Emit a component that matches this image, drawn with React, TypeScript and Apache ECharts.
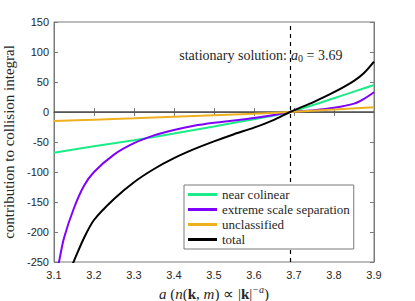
import React, { useEffect, useRef } from "react";
import * as echarts from "echarts";

const xTicks = [3.1, 3.9];
const yRange = [-250, 150];
const a0 = 3.69;

const nearX = [3.1, 3.2, 3.3, 3.4, 3.5, 3.6, 3.65, 3.69, 3.75, 3.8, 3.85, 3.9];
const nearY = [-68, -57, -47, -36, -24, -12, -6, 0, 12, 23, 34, 45];

const extremeX = [3.1, 3.1125, 3.125, 3.15, 3.175, 3.2, 3.25, 3.3, 3.35, 3.4, 3.45, 3.5, 3.55, 3.6, 3.65, 3.69, 3.75, 3.8, 3.85, 3.875, 3.9];
const extremeY = [-290, -250, -210, -160, -123, -100, -71, -52, -39, -30, -23, -18, -14, -10, -5, 0, 3, 7, 14, 22, 33];

const unclX = [3.1, 3.2, 3.3, 3.4, 3.5, 3.6, 3.69, 3.8, 3.9];
const unclY = [-15, -12.8, -10.5, -8, -5.5, -3, 0, 4, 8];

const totalX = [3.1, 3.125, 3.15, 3.175, 3.2, 3.25, 3.3, 3.35, 3.4, 3.45, 3.5, 3.55, 3.6, 3.65, 3.69, 3.75, 3.8, 3.85, 3.875, 3.9];
const totalY = [-330, -285, -248, -210, -180, -145, -117, -95, -77, -62, -49, -37, -26, -13, 0, 17, 33, 52, 65, 84];

const names = ["near colinear", "extreme scale separation", "unclassified", "total"];
const colors = ["#1ceb8a", "#7f00ff", "#edb120", "#000000"];

const zip = (xs: number[], ys: number[]) => xs.map((x, i) => [x, ys[i]]);

export default function App() {
  const ref = useRef<HTMLDivElement>(null);
  useEffect(() => {
    if (!ref.current) return;
    const chart = echarts.init(ref.current, undefined, { renderer: "svg" });
    const serif = "'Liberation Serif', 'Times New Roman', serif";
    const axisColor = "#7a7a7a";
    const labelStyle = { color: "#262626", fontSize: 11, fontFamily: "'Liberation Sans', Arial, sans-serif" };
    const datasets = [zip(nearX, nearY), zip(extremeX, extremeY), zip(unclX, unclY), zip(totalX, totalY)];
    chart.setOption({
      animation: false,
      grid: {
        left: 54,
        right: 41,
        top: 22,
        bottom: 39,
        show: true,
        borderColor: axisColor,
        borderWidth: 1,
        containLabel: false,
        outerBoundsMode: "none",
      },
      xAxis: [
        {
          type: "value",
          min: xTicks[0],
          max: xTicks[1],
          interval: 0.1,
          axisLine: { show: true, lineStyle: { color: axisColor } },
          axisTick: { show: true, inside: true, length: 4, lineStyle: { color: axisColor } },
          splitLine: { show: false },
          axisLabel: { ...labelStyle, margin: 7, formatter: (v: number) => v.toFixed(1) },
          name: "{i|a} ({i|n}({b|k}, {i|m}) ∝ |{b|k}|{sup|−a})",
          nameLocation: "middle",
          nameGap: 18,
          nameTextStyle: {
            fontFamily: serif,
            fontSize: 15,
            color: "#262626",
            rich: {
              i: { fontFamily: serif, fontStyle: "italic", fontSize: 15, color: "#262626" },
              b: { fontFamily: serif, fontWeight: "bold", fontSize: 15, color: "#262626" },
              sup: { fontFamily: serif, fontStyle: "italic", fontSize: 10, color: "#262626", padding: [0, 0, 9, 0] },
            },
          },
        },
        {
          type: "value",
          position: "top",
          min: xTicks[0],
          max: xTicks[1],
          interval: 0.1,
          axisLine: { show: true, lineStyle: { color: axisColor } },
          axisTick: { show: true, inside: true, length: 4, lineStyle: { color: axisColor } },
          axisLabel: { show: false },
          splitLine: { show: false },
        },
      ],
      yAxis: [
        {
          type: "value",
          min: yRange[0],
          max: yRange[1],
          interval: 50,
          axisLine: { show: true, lineStyle: { color: axisColor } },
          axisTick: { show: true, inside: true, length: 4, lineStyle: { color: axisColor } },
          splitLine: { show: false },
          axisLabel: { ...labelStyle, margin: 5 },
          name: "contribution to collision integral",
          nameLocation: "middle",
          nameGap: 31,
          nameTextStyle: { fontFamily: serif, fontSize: 15, color: "#262626" },
        },
        {
          type: "value",
          position: "right",
          min: yRange[0],
          max: yRange[1],
          interval: 50,
          axisLine: { show: true, lineStyle: { color: axisColor } },
          axisTick: { show: true, inside: true, length: 4, lineStyle: { color: axisColor } },
          axisLabel: { show: false },
          splitLine: { show: false },
        },
      ],
      legend: {
        orient: "vertical",
        left: 184,
        top: 185,
        z: 20,
        data: names,
        icon: "rect",
        itemWidth: 29,
        itemHeight: 3,
        itemGap: 2,
        padding: [3, 4, 3, 4],
        backgroundColor: "#ffffff",
        borderColor: "#7a7a7a",
        borderWidth: 1,
        borderRadius: 0,
        textStyle: { fontFamily: serif, fontSize: 13, color: "#262626" },
      },
      graphic: [
        {
          type: "text",
          x: 287,
          y: 55,
          z: 10,
          style: {
            text: "stationary solution:",
            fontFamily: serif,
            fontSize: 14,
            fill: "#262626",
            align: "right",
            verticalAlign: "middle",
          },
        },
        {
          type: "text",
          x: 291,
          y: 55,
          z: 10,
          style: {
            text: "{i|a}{sub|0} = 3.69",
            fontFamily: serif,
            fontSize: 14,
            fill: "#262626",
            align: "left",
            verticalAlign: "middle",
            rich: {
              i: { fontFamily: serif, fontStyle: "italic", fontSize: 14, fill: "#262626" },
              sub: { fontFamily: serif, fontSize: 10, fill: "#262626", padding: [6, 0, 0, 0] },
            },
          },
        },
      ],
      series: [
        {
          type: "line",
          name: "__zero",
          data: [],
          silent: true,
          z: 1,
          markLine: {
            silent: true,
            symbol: "none",
            label: { show: false },
            lineStyle: { color: "#4d4d4d", width: 1.5, type: "solid" },
            data: [{ yAxis: 0 }],
          },
        },
        ...names.map((n, i) => ({
          type: "line",
          name: n,
          data: datasets[i],
          showSymbol: false,
          symbol: "none",
          clip: true,
          smooth: 0.3,
          z: 3 + i,
          lineStyle: { color: colors[i], width: 2 },
          itemStyle: { color: colors[i] },
        })),
        {
          type: "line",
          name: "__a0",
          data: [],
          silent: true,
          z: 8,
          markLine: {
            silent: true,
            symbol: "none",
            label: { show: false },
            lineStyle: { color: "#000000", width: 1.2, type: [4, 4] },
            data: [{ xAxis: a0 }],
          },
        },
      ],
    });
    return () => chart.dispose();
  }, []);
  return <div ref={ref} style={{ position: "absolute", left: 0, top: 0, width: 415, height: 301 }} />;
}
